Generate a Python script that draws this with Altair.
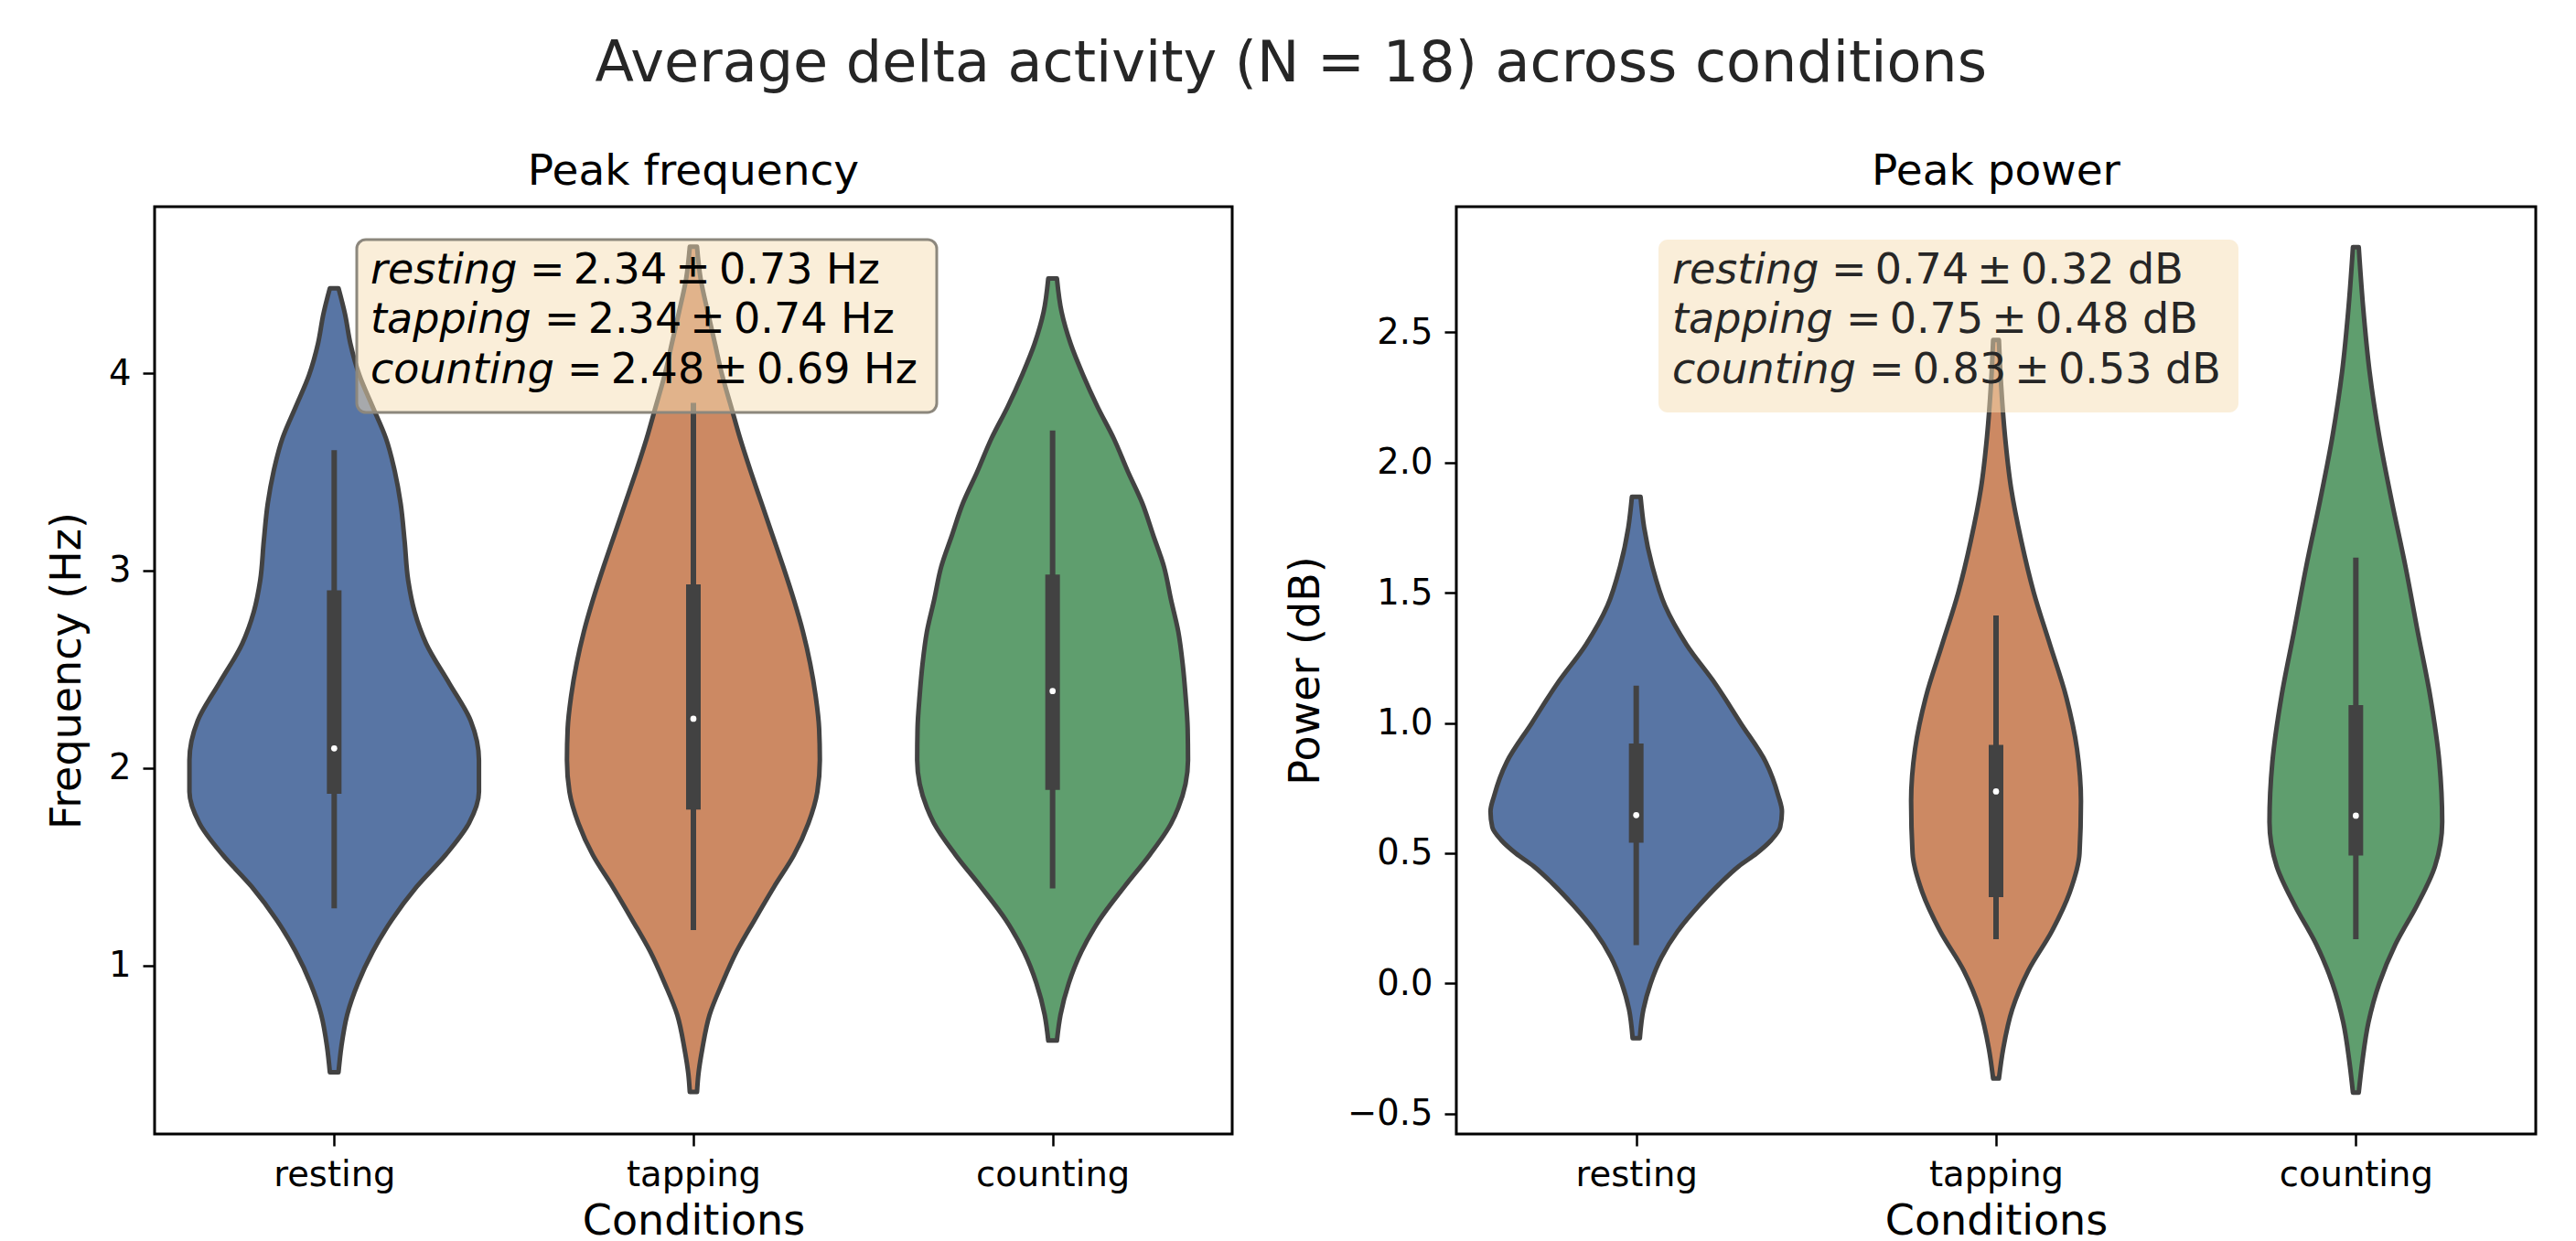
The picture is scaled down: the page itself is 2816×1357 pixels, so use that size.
import altair as alt
import pandas as pd

conditions = ["resting", "tapping", "counting"]
violin_colors = ["#5875a4", "#cc8963", "#5f9e6e"]

# ---------------- Peak frequency (Hz) ----------------
# violin outline: value and half-width (in category units)
freq_resting_v = [4.43, 4.30, 4.15, 3.99, 3.83, 3.67, 3.50, 3.34, 3.15, 2.95, 2.79, 2.63, 2.43,
                  2.24, 2.04, 1.88, 1.72, 1.56, 1.40, 1.23, 1.07, 0.91, 0.75, 0.59, 0.46]
freq_resting_w = [0.012, 0.03, 0.045, 0.07, 0.107, 0.144, 0.169, 0.185, 0.196, 0.206, 0.224, 0.256, 0.32,
                  0.38, 0.403, 0.403, 0.375, 0.31, 0.23, 0.16, 0.107, 0.066, 0.036, 0.02, 0.012]
freq_tapping_v = [4.64, 4.48, 4.31, 4.15, 3.99, 3.83, 3.67, 3.50, 3.34, 3.18, 3.02, 2.85, 2.69, 2.53,
                  2.37, 2.20, 2.04, 1.88, 1.72, 1.56, 1.40, 1.23, 1.07, 0.91, 0.75, 0.58, 0.45, 0.36]
freq_tapping_w = [0.010, 0.02, 0.04, 0.06, 0.08, 0.105, 0.13, 0.16, 0.19, 0.22, 0.25, 0.28, 0.305, 0.325,
                  0.34, 0.35, 0.352, 0.345, 0.32, 0.28, 0.225, 0.17, 0.12, 0.08, 0.045, 0.025, 0.014, 0.010]
freq_counting_v = [4.48, 4.31, 4.15, 3.99, 3.83, 3.67, 3.50, 3.34, 3.18, 3.02, 2.85, 2.69, 2.53,
                   2.37, 2.20, 2.04, 1.92, 1.80, 1.72, 1.56, 1.40, 1.23, 1.07, 0.91, 0.75, 0.62]
freq_counting_w = [0.012, 0.025, 0.05, 0.085, 0.125, 0.17, 0.21, 0.25, 0.28, 0.31, 0.33, 0.35, 0.362,
                   0.37, 0.376, 0.377, 0.37, 0.35, 0.33, 0.27, 0.2, 0.13, 0.08, 0.045, 0.022, 0.012]
freq_whisker_lo = [1.29, 1.18, 1.39]
freq_whisker_hi = [3.61, 3.85, 3.71]
freq_q1 = [1.87, 1.79, 1.89]
freq_q3 = [2.90, 2.93, 2.98]
freq_median = [2.10, 2.25, 2.39]
freq_mean = [2.34, 2.34, 2.48]
freq_sd = [0.73, 0.74, 0.69]
freq_ticks = [1, 2, 3, 4]
freq_domain = [0.147, 4.843]

# ---------------- Peak power (dB) ----------------
pow_resting_v = [1.868, 1.75, 1.60, 1.45, 1.30, 1.15, 1.00, 0.85, 0.72, 0.66, 0.60, 0.55, 0.50,
                 0.45, 0.38, 0.30, 0.20, 0.10, 0.00, -0.10, -0.21]
pow_resting_w = [0.012, 0.022, 0.045, 0.08, 0.14, 0.22, 0.29, 0.36, 0.395, 0.405, 0.40, 0.375, 0.335,
                 0.285, 0.23, 0.175, 0.115, 0.07, 0.04, 0.02, 0.01]
pow_tapping_v = [2.47, 2.30, 2.10, 1.90, 1.70, 1.50, 1.30, 1.10, 0.90, 0.70, 0.50, 0.35, 0.20,
                 0.05, -0.10, -0.25, -0.365]
pow_tapping_w = [0.008, 0.014, 0.025, 0.042, 0.07, 0.105, 0.15, 0.195, 0.225, 0.236, 0.232, 0.205, 0.155,
                 0.09, 0.045, 0.02, 0.008]
pow_counting_v = [2.827, 2.60, 2.35, 2.10, 1.85, 1.60, 1.35, 1.10, 0.85, 0.62, 0.45, 0.30, 0.15,
                  0.00, -0.15, -0.30, -0.419]
pow_counting_w = [0.008, 0.02, 0.038, 0.065, 0.10, 0.138, 0.172, 0.207, 0.232, 0.24, 0.22, 0.17, 0.11,
                  0.065, 0.035, 0.018, 0.008]
pow_whisker_lo = [0.147, 0.17, 0.17]
pow_whisker_hi = [1.143, 1.413, 1.635]
pow_q1 = [0.54, 0.331, 0.491]
pow_q3 = [0.921, 0.916, 1.069]
pow_median = [0.646, 0.737, 0.644]
pow_mean = [0.74, 0.75, 0.83]
pow_sd = [0.32, 0.48, 0.53]
pow_ticks = [-0.5, 0.0, 0.5, 1.0, 1.5, 2.0, 2.5]
pow_domain = [-0.578, 2.982]

FONT = "DejaVu Sans"
OUTLINE = "#424242"
label_expr = "[" + ",".join("'%s'" % c for c in conditions) + "][datum.value]"


def violin_table(vals, widths):
    rows = []
    for i, (vs, ws) in enumerate(zip(vals, widths)):
        for k, (v, w) in enumerate(zip(vs, ws)):
            rows.append({"cond": conditions[i], "idx": i, "v": v, "hw": w, "ord": k})
    return pd.DataFrame(rows)


def panel(vals, widths, lo, hi, q1, q3, med, means, sds, unit, yticks, ydomain, yfmt,
          title, ytitle, width, box_stroke, text_color):
    xscale = alt.Scale(domain=[-0.5, 2.5], nice=False, zero=False)
    yscale = alt.Scale(domain=ydomain, nice=False, zero=False)
    xaxis = alt.Axis(values=[0, 1, 2], labelExpr=label_expr, title="Conditions",
                     titlePadding=10, grid=False, domain=False)
    yaxis = alt.Axis(values=yticks, format=yfmt, title=ytitle, titlePadding=21,
                     grid=False, domain=False)

    vdf = violin_table(vals, widths)
    violins = alt.Chart(vdf).transform_calculate(
        xl="datum.idx - datum.hw", xr="datum.idx + datum.hw"
    ).mark_area(orient="horizontal", stroke=OUTLINE, strokeWidth=5, opacity=1,
                interpolate="monotone", strokeJoin="round").encode(
        y=alt.Y("v:Q", scale=yscale, axis=yaxis),
        x=alt.X("xl:Q", scale=xscale, axis=xaxis),
        x2="xr:Q",
        color=alt.Color("cond:N", scale=alt.Scale(domain=conditions, range=violin_colors), legend=None),
        detail="cond:N",
    )

    bdf = pd.DataFrame({"cond": conditions, "idx": [0, 1, 2], "lo": lo, "hi": hi,
                        "q1": q1, "q3": q3, "med": med})
    base = alt.Chart(bdf)
    whisk = base.mark_rule(color=OUTLINE, strokeWidth=6, strokeCap="butt").encode(
        x=alt.X("idx:Q", scale=xscale, axis=xaxis),
        y=alt.Y("lo:Q", scale=yscale, axis=yaxis), y2="hi:Q")
    box = base.mark_rule(color=OUTLINE, strokeWidth=16, strokeCap="butt").encode(
        x=alt.X("idx:Q", scale=xscale, axis=xaxis),
        y=alt.Y("q1:Q", scale=yscale, axis=yaxis), y2="q3:Q")
    mdot = base.mark_point(filled=True, color="white", opacity=1, size=45, shape="circle").encode(
        x=alt.X("idx:Q", scale=xscale, axis=xaxis),
        y=alt.Y("med:Q", scale=yscale, axis=yaxis))

    one = alt.Chart(pd.DataFrame({"k": [0]}))
    rect_kwargs = dict(fill="#f5deb3", fillOpacity=0.5, cornerRadius=10)
    if box_stroke:
        rect_kwargs.update(stroke="#8c877d", strokeWidth=3)
    else:
        rect_kwargs.update(strokeWidth=0)
    ann_box = one.mark_rect(**rect_kwargs).encode(
        x=alt.value(221), x2=alt.value(855), y=alt.value(36), y2=alt.value(225))

    layers = [violins, whisk, box, mdot, ann_box]
    line_y = [70, 124, 179]
    eq_x = [410, 426, 451]
    for i, c in enumerate(conditions):
        layers.append(one.mark_text(align="left", baseline="middle", font=FONT, fontSize=46,
                                    fontStyle="italic", color=text_color).encode(
            x=alt.value(236), y=alt.value(line_y[i]), text=alt.value(c)))
        rest = "=\u2009%.2f\u2009\u00b1\u2009%.2f %s" % (means[i], sds[i], unit)
        layers.append(one.mark_text(align="left", baseline="middle", font=FONT, fontSize=46,
                                    color=text_color).encode(
            x=alt.value(eq_x[i]), y=alt.value(line_y[i]), text=alt.value(rest)))

    return alt.layer(*layers).properties(
        width=width, height=1014,
        title=alt.TitleParams(title, fontSize=47, font=FONT, fontWeight="normal",
                              anchor="middle", baseline="alphabetic", offset=-23, color="black"))


left = panel([freq_resting_v, freq_tapping_v, freq_counting_v],
             [freq_resting_w, freq_tapping_w, freq_counting_w],
             freq_whisker_lo, freq_whisker_hi, freq_q1, freq_q3, freq_median,
             freq_mean, freq_sd, "Hz", freq_ticks, freq_domain, "d",
             "Peak frequency", "Frequency (Hz)", 1178, True, "black")
right = panel([pow_resting_v, pow_tapping_v, pow_counting_v],
              [pow_resting_w, pow_tapping_w, pow_counting_w],
              pow_whisker_lo, pow_whisker_hi, pow_q1, pow_q3, pow_median,
              pow_mean, pow_sd, "dB", pow_ticks, pow_domain, ".1f",
              "Peak power", "Power (dB)", 1180, False, "#262626")

chart = alt.hconcat(left, right, spacing=54).properties(
    title=alt.TitleParams("Average delta activity (N = 18) across conditions", fontSize=62,
                          font=FONT, fontWeight="normal", anchor="middle", color="#262626",
                          baseline="alphabetic", offset=12),
    padding={"left": 41, "top": 30, "right": 10, "bottom": 10},
    background="white",
).configure_view(stroke="black", strokeWidth=3).configure_axis(
    grid=False, domain=False, tickColor="black", tickWidth=2.5, tickSize=13,
    labelFont=FONT, labelFontSize=38.5, labelColor="black", labelPadding=13,
    titleFont=FONT, titleFontSize=46, titleFontWeight="normal", titleColor="black",
)

chart.save("out.html", embed_options={"renderer": "svg", "actions": False})
